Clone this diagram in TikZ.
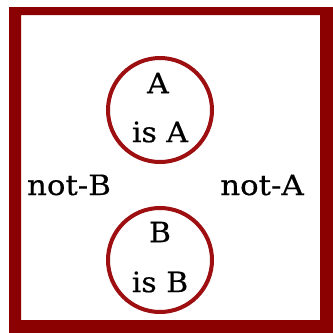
\documentclass[tikz,border=0pt]{standalone}
\usepackage{fontspec}
\setmainfont[FakeBold=0.5]{DejaVu Serif}
\definecolor{frame}{HTML}{8B0000}
\definecolor{ring}{HTML}{9E0F12}
\begin{document}
\begin{tikzpicture}[x=1pt, y=-1pt,
  ring/.style={draw=ring, line width=4pt, circle, minimum size=104pt,
               inner sep=0pt},
  word/.style={inner sep=0pt, anchor=center,
               font=\fontsize{28}{32}\selectfont\addfontfeatures{FakeStretch=1.07}},
  side/.style={word, font=\fontsize{28}{32}\selectfont\addfontfeatures{FakeStretch=1.1}}
]
  \useasboundingbox (0,0) rectangle (333,333);
  \fill[white] (0,0) rectangle (333,333);
  \fill[frame, even odd rule] (9,7) rectangle (333,333)
                              (21,15) rectangle (320,320);

  \node[ring] (ringA) at (160,110) {};
  \node[ring] (ringB) at (160,260) {};

  \node[word] (topA) at (158,83)  {A};
  \node[word] (isA)  at (160,132) {is A};
  \node[word] (topB) at (160,232) {B};
  \node[word] (isB)  at (160,282) {is B};

  \node[side] (notB) at (69,185)  {not-B};
  \node[side] (notA) at (262,185) {not-A};
\end{tikzpicture}
\end{document}
